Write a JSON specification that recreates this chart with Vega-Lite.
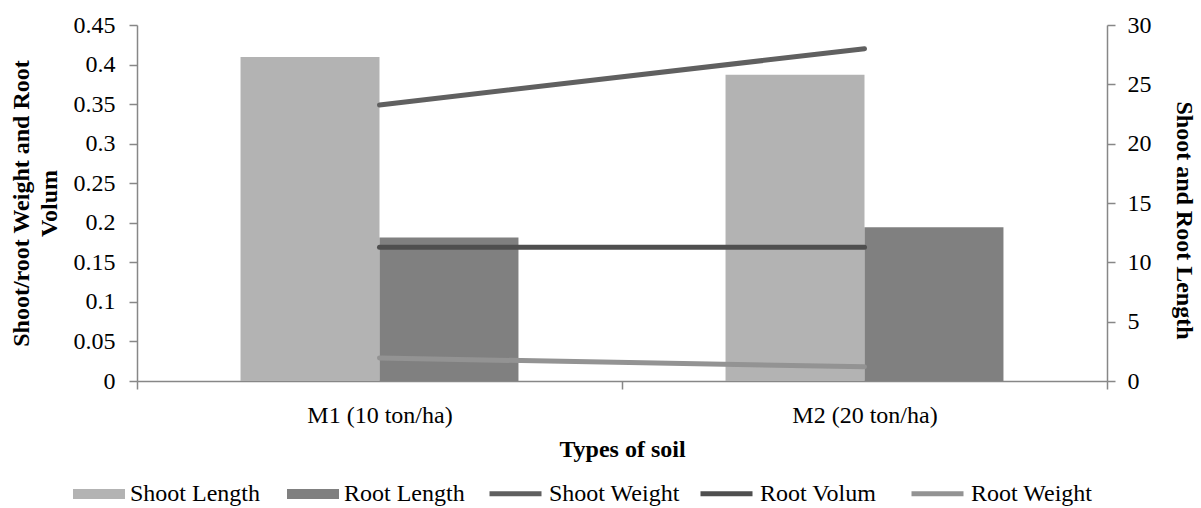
{
  "$schema": "https://vega.github.io/schema/vega-lite/v6.json",
  "width": 970,
  "height": 356,
  "autosize": {"type": "none"},
  "padding": {"left": 137, "top": 25, "right": 94, "bottom": 127},
  "background": "white",
  "config": {
    "view": {"stroke": null},
    "font": "Liberation Serif",
    "axis": {
      "domainColor": "#878787",
      "domainWidth": 1.5,
      "tickColor": "#878787",
      "tickWidth": 1.5,
      "tickSize": 8,
      "grid": false,
      "labelFont": "Liberation Serif",
      "labelFontSize": 24,
      "labelColor": "black",
      "titleFont": "Liberation Serif",
      "titleFontSize": 24,
      "titleFontWeight": "bold",
      "titleColor": "black"
    },
    "legend": {
      "labelFont": "Liberation Serif",
      "labelFontSize": 24,
      "labelColor": "black",
      "labelOffset": 5,
      "symbolSize": 2704,
      "direction": "horizontal",
      "gridAlign": "all",
      "columnPadding": 22
    }
  },
  "datasets": {
    "bars": [
      {"soil": "M1 (10 ton/ha)", "series": "Shoot Length", "value": 27.3},
      {"soil": "M1 (10 ton/ha)", "series": "Root Length", "value": 12.1},
      {"soil": "M2 (20 ton/ha)", "series": "Shoot Length", "value": 25.8},
      {"soil": "M2 (20 ton/ha)", "series": "Root Length", "value": 12.95}
    ],
    "lines": [
      {"soil": "M1 (10 ton/ha)", "series": "Shoot Weight", "value": 0.349},
      {"soil": "M2 (20 ton/ha)", "series": "Shoot Weight", "value": 0.42},
      {"soil": "M1 (10 ton/ha)", "series": "Root Volum", "value": 0.169},
      {"soil": "M2 (20 ton/ha)", "series": "Root Volum", "value": 0.169},
      {"soil": "M1 (10 ton/ha)", "series": "Root Weight", "value": 0.029},
      {"soil": "M2 (20 ton/ha)", "series": "Root Weight", "value": 0.018}
    ]
  },
  "encoding": {
    "x": {
      "field": "soil",
      "type": "nominal",
      "sort": null,
      "title": "Types of soil",
      "scale": {"paddingInner": 0, "paddingOuter": 0},
      "axis": {"labelAngle": 0, "tickBand": "extent", "labelPadding": 14, "titlePadding": 10}
    }
  },
  "layer": [
    {
      "data": {"name": "bars"},
      "mark": {"type": "bar"},
      "encoding": {
        "xOffset": {"field": "series", "sort": ["Shoot Length", "Root Length"], "scale": {"paddingInner": 0, "paddingOuter": 0.745}},
        "y": {
          "field": "value",
          "type": "quantitative",
          "scale": {"domain": [0, 30]},
          "axis": {
            "orient": "right",
            "values": [0, 5, 10, 15, 20, 25, 30],
            "title": "Shoot and Root Length",
            "labelPadding": 12,
            "titlePadding": 20,
            "titleY": 195
          }
        },
        "fill": {
          "field": "series",
          "type": "nominal",
          "scale": {"domain": ["Shoot Length", "Root Length"], "range": ["#b3b3b3", "#808080"]},
          "legend": {
            "title": null,
            "orient": "none",
            "legendX": -64,
            "legendY": 443,
            "columns": 2,
            "columnPadding": 27,
            "symbolType": "M-1,-0.19H1V0.19H-1Z",
            "symbolStrokeWidth": 0
          }
        }
      }
    },
    {
      "data": {"name": "lines"},
      "mark": {"type": "line", "strokeWidth": 5, "strokeCap": "round"},
      "encoding": {
        "y": {
          "field": "value",
          "type": "quantitative",
          "scale": {"domain": [0, 0.45]},
          "axis": {
            "orient": "left",
            "values": [0, 0.05, 0.1, 0.15, 0.2, 0.25, 0.3, 0.35, 0.4, 0.45],
            "format": "~g",
            "title": ["Shoot/root Weight and Root", "Volum"],
            "titleLineHeight": 28,
            "labelPadding": 14,
            "titlePadding": 12
          }
        },
        "stroke": {
          "field": "series",
          "type": "nominal",
          "scale": {"domain": ["Shoot Weight", "Root Volum", "Root Weight"], "range": ["#606060", "#4f4f4f", "#939393"]},
          "legend": {
            "title": null,
            "orient": "none",
            "legendX": 350,
            "legendY": 440,
            "columns": 3,
            "columnPadding": 10,
            "symbolType": "stroke",
            "symbolStrokeWidth": 5
          }
        }
      }
    }
  ],
  "resolve": {"scale": {"y": "independent"}}
}
